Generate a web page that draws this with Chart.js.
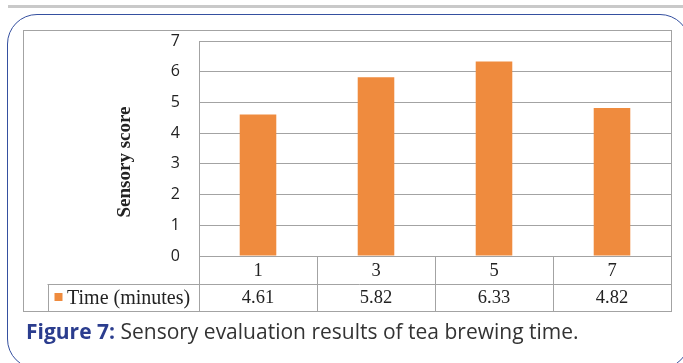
<!DOCTYPE html>
<html>
<head>
<meta charset="utf-8">
<script src="https://cdn.jsdelivr.net/npm/chart.js@4/dist/chart.umd.min.js"></script>
<style>
  html, body { margin: 0; padding: 0; background: #fff; }
  #wrap { position: relative; width: 683px; height: 363px; overflow: hidden; }
  #topbar { position: absolute; left: 8px; top: 5px; width: 680px; height: 3px; background: #c9c9c9; }
  #frame { position: absolute; left: 7px; top: 14px; width: 683px; height: 355px;
           border: 1.5px solid #3550a0; border-radius: 30px; box-sizing: border-box; }
  #c { position: absolute; left: 0; top: 0; }
  #caption { position: absolute; left: 26px; top: 317px; font-family: "Open Sans", sans-serif;
             font-size: 21px; color: #333; white-space: nowrap; }
  #caption b { color: #2b3d8e; font-weight: 700; }
</style>
</head>
<body>
<div id="wrap">
  <div id="topbar"></div>
  <div id="frame"></div>
  <canvas id="c" width="683" height="363"></canvas>
  <div id="caption"><b>Figure 7:</b> Sensory evaluation results of tea brewing time.</div>
</div>
<script>
// Brewing times (minutes) and the mean sensory score for each
const categories = ['1', '3', '5', '7'];
const seriesName = 'Time (minutes)';
const scores = [4.61, 5.82, 6.33, 4.82];
const yTicks = [0, 1, 2, 3, 4, 5, 6, 7];
const yTitle = 'Sensory score';

const BAR_COLOR = '#EF8B3E';
const LINE_COLOR = '#a3a3a3';
const TEXT_COLOR = '#222';
const SERIF = '"Liberation Serif", "Times New Roman", serif';

// Outer box, data table under the plot and the rotated axis title
const tablePlugin = {
  id: 'dataTable',
  afterDraw(chart) {
    const { ctx, chartArea } = chart;
    const x = chart.scales.x;
    const left = chartArea.left, right = chartArea.right, bottom = chartArea.bottom;
    const catW = (right - left) / categories.length;
    const row1 = bottom + 27.5;   // category row bottom
    const row2 = bottom + 55;     // value row bottom
    const boxL = 23.5, boxT = 30.5;

    ctx.save();
    ctx.strokeStyle = LINE_COLOR;
    ctx.lineWidth = 1;

    // outer box
    ctx.strokeRect(boxL, boxT, Math.round(right) + 0.5 - boxL, Math.round(row2) + 0.5 - boxT);

    // table grid
    const h = (x0, x1, y) => { ctx.beginPath(); ctx.moveTo(x0, Math.round(y) + 0.5); ctx.lineTo(x1, Math.round(y) + 0.5); ctx.stroke(); };
    const v = (xx, y0, y1) => { ctx.beginPath(); ctx.moveTo(Math.round(xx) + 0.5, y0); ctx.lineTo(Math.round(xx) + 0.5, y1); ctx.stroke(); };
    const legendL = 47.5;
    h(left, right, bottom);
    h(legendL, right, row1);
    v(legendL, Math.round(row1) + 0.5, Math.round(row2) + 0.5);
    for (let i = 0; i <= categories.length; i++) {
      v(left + i * catW, bottom, Math.round(row2) + 0.5);
    }

    // table text
    ctx.fillStyle = TEXT_COLOR;
    ctx.font = '18.5px ' + SERIF;
    ctx.textAlign = 'center';
    ctx.textBaseline = 'middle';
    categories.forEach((c, i) => {
      const cx = x.getPixelForValue(i);
      ctx.fillText(c, cx, (bottom + row1) / 2 + 1);
      ctx.fillText(scores[i].toFixed(2), cx, (row1 + row2) / 2 + 1);
    });

    // legend key
    ctx.fillStyle = BAR_COLOR;
    ctx.fillRect(54.5, row1 + 9.5, 8, 8);
    ctx.fillStyle = TEXT_COLOR;
    ctx.textAlign = 'left';
    ctx.font = '20px ' + SERIF;
    ctx.fillText(seriesName, 67, (row1 + row2) / 2 + 1);

    // y axis title
    ctx.translate(125, 162);
    ctx.rotate(-Math.PI / 2);
    ctx.textAlign = 'center';
    ctx.font = 'bold 19px ' + SERIF;
    ctx.fillText(yTitle, 0, 0);
    ctx.restore();
  }
};

new Chart(document.getElementById('c'), {
  type: 'bar',
  data: {
    labels: categories,
    datasets: [{
      label: seriesName,
      data: scores,
      backgroundColor: BAR_COLOR,
      barPercentage: 0.31,
      categoryPercentage: 1
    }]
  },
  options: {
    responsive: false,
    animation: false,
    devicePixelRatio: 1,
    layout: { padding: { left: 0, right: 12, top: 41, bottom: 107 } },
    plugins: { legend: { display: false }, tooltip: { enabled: false } },
    scales: {
      x: { display: false },
      y: {
        min: 0,
        max: 7,
        afterBuildTicks(scale) { scale.ticks = yTicks.map(v => ({ value: v })); },
        afterFit(scale) { scale.width = 199; },
        ticks: { padding: 19, color: TEXT_COLOR, font: { family: '"Open Sans"', size: 16 } },
        grid: { color: LINE_COLOR, drawTicks: false },
        border: { color: LINE_COLOR }
      }
    }
  },
  plugins: [tablePlugin]
});
</script>
</body>
</html>
